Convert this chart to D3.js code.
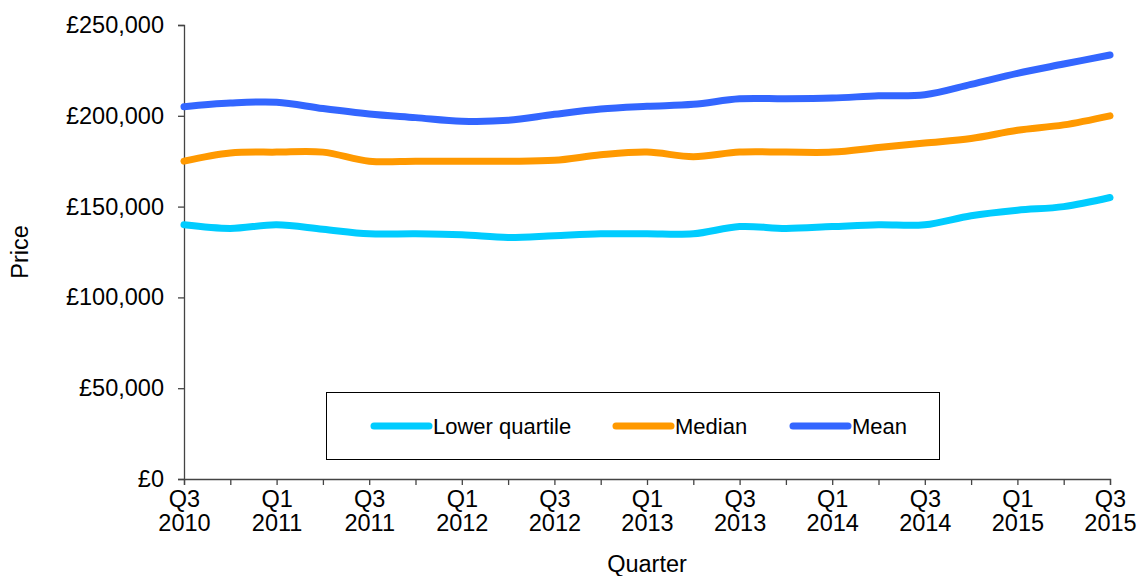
<!DOCTYPE html>
<html>
<head>
<meta charset="utf-8">
<script src="https://cdn.jsdelivr.net/npm/d3@7"></script>
<style>
  body { margin: 0; background: #fff; }
  svg text { font-family: "Liberation Sans", Arial, sans-serif; fill: #000; }
</style>
</head>
<body>
<svg id="chart" width="1137" height="576"></svg>
<script>
// Data
const quarters = [
  'Q3 2010', 'Q4 2010', 'Q1 2011', 'Q2 2011', 'Q3 2011', 'Q4 2011', 'Q1 2012',
  'Q2 2012', 'Q3 2012', 'Q4 2012', 'Q1 2013', 'Q2 2013', 'Q3 2013', 'Q4 2013',
  'Q1 2014', 'Q2 2014', 'Q3 2014', 'Q4 2014', 'Q1 2015', 'Q2 2015', 'Q3 2015'
];
const lowerQuartile = [140000, 138000, 140000, 137500, 135000, 135000, 134500, 133000, 134000, 135000, 135000,
  135000, 139000, 138000, 139000, 140000, 140000, 145000, 148000, 150000, 155000];
const median = [175000, 179500, 180000, 180000, 175000, 175000, 175000, 175000, 175500, 178500, 180000,
  177500, 180000, 180000, 180000, 182500, 185000, 187500, 192000, 195000, 200000];
const mean = [205000, 207000, 207500, 204000, 201000, 199000, 197000, 197500, 200800, 203700, 205200,
  206300, 209400, 209400, 209800, 211000, 211600, 217300, 223400, 228500, 233500];
const yTicks = [0, 50000, 100000, 150000, 200000, 250000];

const seriesNames = ['Lower quartile', 'Median', 'Mean'];
const seriesValues = [lowerQuartile, median, mean];
const colors = ['#00ccff', '#ff9900', '#3366ff'];

const margin = { top: 25, right: 27, bottom: 97, left: 184 };
const width = 1137;
const height = 576;
const fontSize = 23.5;

const svg = d3.select('#chart');

const x = d3.scalePoint()
  .domain(quarters)
  .range([margin.left, width - margin.right]);

const y = d3.scaleLinear()
  .domain([0, 250000])
  .range([height - margin.bottom, margin.top]);

// y axis
const yAxis = svg.append('g')
  .attr('transform', 'translate(' + margin.left + ',0)')
  .call(d3.axisLeft(y)
    .tickValues(yTicks)
    .tickSize(6)
    .tickPadding(14)
    .tickFormat(d => '£' + d3.format(',')(d)));

yAxis.selectAll('text').style('font-size', fontSize + 'px');

// x axis, labels on every other quarter, two lines
const xAxis = svg.append('g')
  .attr('transform', 'translate(0,' + y(0) + ')')
  .call(d3.axisBottom(x).tickSize(6).tickFormat(''));

xAxis.selectAll('.tick')
  .filter((d, i) => i % 2 === 0)
  .append('text')
  .attr('text-anchor', 'middle')
  .style('font-size', fontSize + 'px')
  .selectAll('tspan')
  .data(d => d.split(' '))
  .join('tspan')
  .attr('x', 0)
  .attr('y', (d, i) => 28 + i * 24)
  .text(d => d);

svg.selectAll('.domain, .tick line').attr('stroke', '#444').attr('stroke-width', 1.3);

// axis titles
svg.append('text')
  .attr('transform', 'translate(28,' + (margin.top + y(0)) / 2 + ') rotate(-90)')
  .attr('text-anchor', 'middle')
  .style('font-size', fontSize + 'px')
  .text('Price');

svg.append('text')
  .attr('x', (margin.left + width - margin.right) / 2)
  .attr('y', 572)
  .attr('text-anchor', 'middle')
  .style('font-size', fontSize + 'px')
  .text('Quarter');

// lines
const line = d3.line()
  .x((d, i) => x(quarters[i]))
  .y(d => y(d))
  .curve(d3.curveCatmullRom.alpha(0.5));

svg.append('g')
  .selectAll('path')
  .data(seriesValues)
  .join('path')
  .attr('d', line)
  .attr('fill', 'none')
  .attr('stroke', (d, i) => colors[i])
  .attr('stroke-width', 7)
  .attr('stroke-linecap', 'round')
  .attr('stroke-linejoin', 'round');

// legend
const legend = svg.append('g').attr('class', 'legend');
legend.append('rect')
  .attr('x', 326.5)
  .attr('y', 392.5)
  .attr('width', 613)
  .attr('height', 67)
  .attr('fill', '#fff')
  .attr('stroke', '#000')
  .attr('stroke-width', 1);

const legendX = [374, 616, 793];
const legendItem = legend.selectAll('.legend-item')
  .data(seriesNames)
  .join('g')
  .attr('class', 'legend-item')
  .attr('transform', (d, i) => 'translate(' + legendX[i] + ',426)');

legendItem.append('line')
  .attr('x1', 0)
  .attr('x2', 55)
  .attr('stroke', (d, i) => colors[i])
  .attr('stroke-width', 7)
  .attr('stroke-linecap', 'round');

legendItem.append('text')
  .attr('x', 59)
  .attr('dy', '0.36em')
  .style('font-size', '22px')
  .text(d => d);
</script>
</body>
</html>
